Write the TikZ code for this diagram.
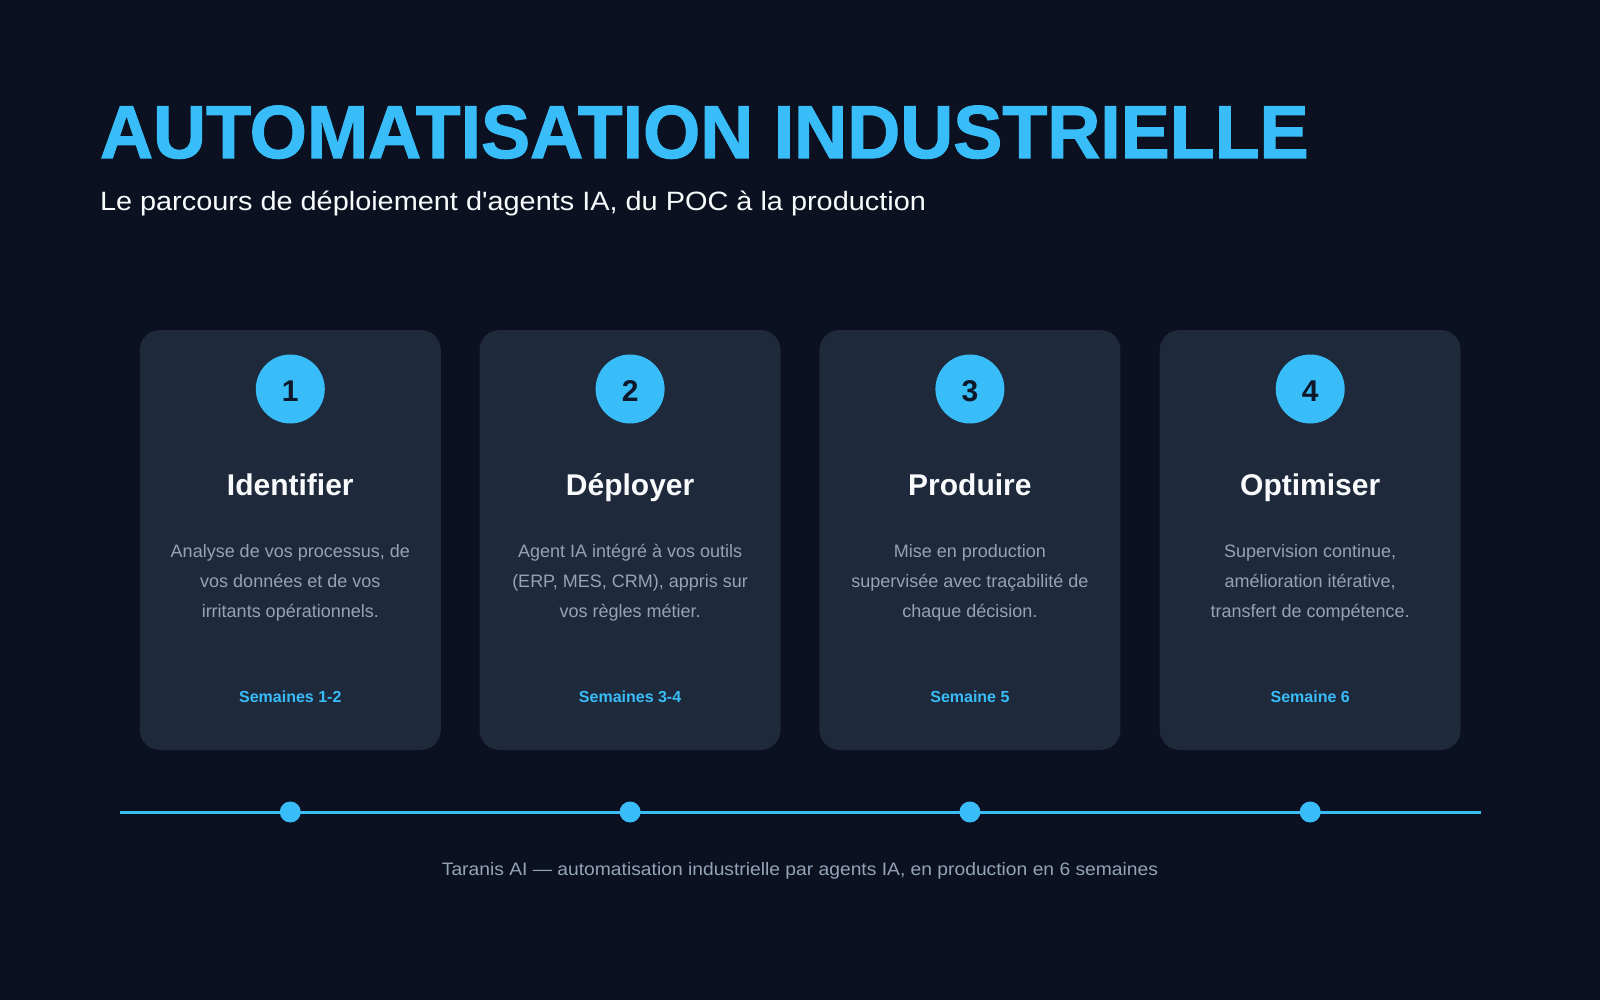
\documentclass[tikz,border=0pt]{standalone}
\usepackage{fontspec}
\setmainfont{Liberation Sans}
\newfontfamily\heavyfont[FakeBold=1.5]{Liberation Sans Bold}
\definecolor{bg}{HTML}{0B1120}
\definecolor{cardfill}{HTML}{1E293B}
\definecolor{accent}{HTML}{38BDF8}
\definecolor{numtext}{HTML}{0F172A}
\definecolor{desc}{HTML}{94A3B8}
\definecolor{whitetext}{HTML}{F8FAFC}
\tikzset{
  cardbox/.style={fill=cardfill, rounded corners=20pt, minimum width=301pt, minimum height=420pt, inner sep=0pt},
  numcircle/.style={circle, fill=accent, minimum size=69pt, inner sep=0pt},
  numlabel/.style={anchor=base, text=numtext, font=\bfseries\fontsize{30}{32}\selectfont},
  cardtitle/.style={anchor=base, text=whitetext, font=\bfseries\fontsize{30}{34}\selectfont},
  descline/.style={anchor=base, text=desc, font=\fontsize{18}{22}\selectfont},
  weeks/.style={anchor=base, text=accent, font=\bfseries\fontsize{16}{19}\selectfont},
  tdot/.style={circle, fill=accent, minimum size=21pt, inner sep=0pt},
}
\newcommand{\stagecard}[8]{%
  \node[cardbox] (card#1) at (#2,540) {};
  \node[numcircle] (circ#1) at (#2,389) {};
  \node[numlabel] (num#1) at (#2,401) {#3};
  \node[cardtitle] (title#1) at (#2,495) {#4};
  \node[descline] (desca#1) at (#2,557) {#5};
  \node[descline] (descb#1) at (#2,587) {#6};
  \node[descline] (descc#1) at (#2,617) {#7};
  \node[weeks] (weeks#1) at (#2,702) {#8};
}
\begin{document}
\begin{tikzpicture}[x=1pt,y=-1pt, every node/.style={inner sep=0pt, outer sep=0pt}]
\fill[bg] (0,0) rectangle (1600,1000);
\useasboundingbox (0,0) rectangle (1600,1000);
\node[anchor=base west, text=accent, font=\heavyfont\fontsize{75}{80}\selectfont] (maintitle) at (100,158) {\scalebox{0.98}[1]{AUTOMATISATION INDUSTRIELLE}};
\node[anchor=base west, text=whitetext, font=\fontsize{26.5}{30}\selectfont] (subtitle) at (100,211) {\scalebox{1.09}[1]{Le parcours de déploiement d\textquotesingle agents IA, du POC à la production}};
\stagecard{1}{290.3}{1}{Identifier}{Analyse de vos processus, de}{vos données et de vos}{irritants opérationnels.}{Semaines 1-2}
\stagecard{2}{630.1}{2}{Déployer}{Agent IA intégré à vos outils}{(ERP, MES, CRM), appris sur}{vos règles métier.}{Semaines 3-4}
\stagecard{3}{969.9}{3}{Produire}{Mise en production}{supervisée avec traçabilité de}{chaque décision.}{Semaine 5}
\stagecard{4}{1310.2}{4}{Optimiser}{Supervision continue,}{amélioration itérative,}{transfert de compétence.}{Semaine 6}
\coordinate (tlstart) at (120,812);
\coordinate (tlend) at (1481,812);
\draw[accent, line width=3pt] (tlstart) -- (tlend);
\node[tdot] (dot1) at (290.3,812) {};
\node[tdot] (dot2) at (630.1,812) {};
\node[tdot] (dot3) at (969.9,812) {};
\node[tdot] (dot4) at (1310.2,812) {};
\node[anchor=base, text=desc, font=\fontsize{18}{22}\selectfont] (footer) at (800,875.5) {\scalebox{1.07}[1]{Taranis AI — automatisation industrielle par agents IA, en production en 6 semaines}};
\end{tikzpicture}
\end{document}
